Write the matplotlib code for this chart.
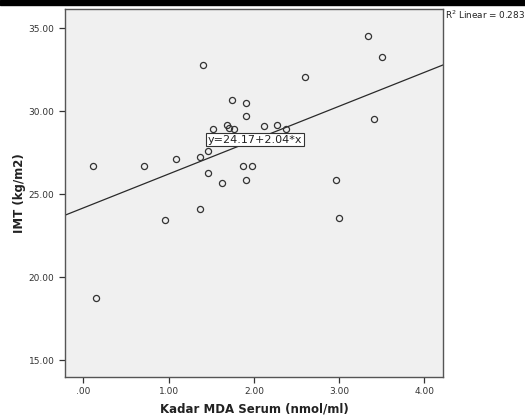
import matplotlib
matplotlib.use("Agg")
import matplotlib.pyplot as plt
import numpy as np
from matplotlib.patches import Rectangle

mda = [0.115, 0.147, 0.710, 0.960, 1.089, 1.370, 1.370, 1.398, 1.460, 1.460,
       1.519, 1.621, 1.683, 1.710, 1.742, 1.769, 1.871, 1.903, 1.903, 1.903,
       1.980, 2.123, 2.273, 2.375, 2.595, 2.966, 2.997, 3.345, 3.408, 3.502]
imt = [26.69, 18.72, 26.70, 23.45, 27.09, 27.23, 24.08, 32.79, 27.59, 26.27,
       28.95, 25.69, 29.17, 28.97, 30.69, 28.95, 26.72, 30.46, 29.72, 25.83,
       26.72, 29.11, 29.17, 28.94, 32.04, 25.83, 23.55, 34.54, 29.54, 33.27]
intercept = 24.17
slope = 2.04
r2 = 0.283

xticks = [0, 1, 2, 3, 4]
xticklabels = [".00", "1.00", "2.00", "3.00", "4.00"]
yticks = [15, 20, 25, 30, 35]
yticklabels = ["15.00", "20.00", "25.00", "30.00", "35.00"]

fig = plt.figure(figsize=(5.25, 4.19), dpi=100)
fig.patches.append(Rectangle((0, 1 - 5/419), 1, 5/419, transform=fig.transFigure,
                             color="black", zorder=10))
ax = fig.add_axes([65/525, 1 - 377/419, (443 - 65)/525, (377 - 9)/419])
ax.set_facecolor("#F0F0F0")
xlim = (-0.217, 4.22)
ylim = (13.98, 36.15)
ax.set_xlim(*xlim)
ax.set_ylim(*ylim)

xs = np.array(xlim)
ax.plot(xs, intercept + slope * xs, color="#2a2a2a", lw=0.9, zorder=2)
ax.plot(mda, imt, linestyle="none", marker="o", ms=4.4, mfc="none",
        mec="#333333", mew=0.9, zorder=3)

ax.text(2.012, 28.28, f"y={intercept:.2f}+{slope:.2f}*x", ha="center", va="center",
        fontsize=8, color="#222222", zorder=4,
        bbox=dict(boxstyle="square,pad=0.15", fc="white", ec="#333333", lw=0.8))

ax.set_xticks(xticks)
ax.set_xticklabels(xticklabels)
ax.set_yticks(yticks)
ax.set_yticklabels(yticklabels)
ax.tick_params(direction="out", length=4, width=0.9, colors="#333333",
               labelsize=6.5, labelcolor="#333333")
for s in ax.spines.values():
    s.set_color("#555555")
    s.set_linewidth(1.0)

ax.set_xlabel("Kadar MDA Serum (nmol/ml)", fontsize=8.5, fontweight="bold",
              color="#222222", labelpad=4.5)
ax.set_ylabel("IMT (kg/m2)", fontsize=8.5, fontweight="bold", color="#222222",
              labelpad=2)

fig.text(445/525, 1 - 9/419, f"R$^2$ Linear = {r2:.3f}", ha="left", va="top",
         fontsize=6.4, color="#222222")

fig.savefig("out.png", dpi=100)
